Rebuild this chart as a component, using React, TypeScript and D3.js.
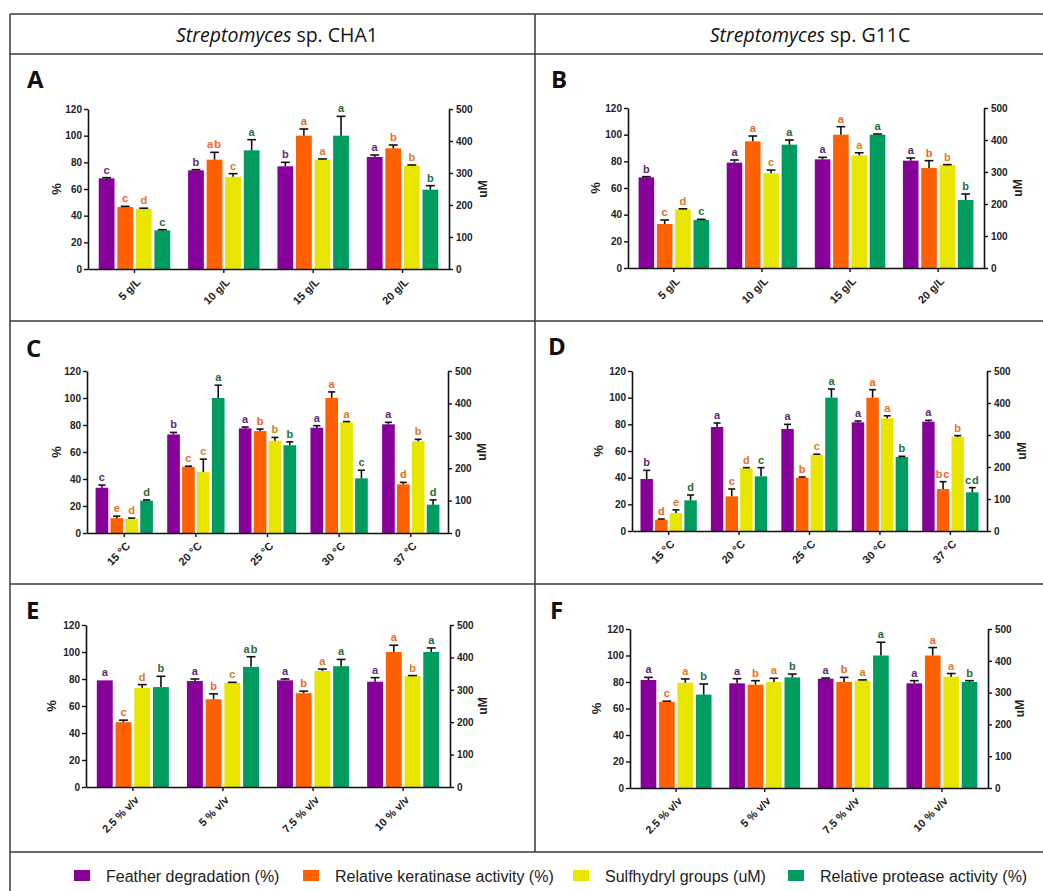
import { useEffect, useRef } from "react";
import * as d3 from "d3";

// categories
const concCategories = ["5 g/L", "10 g/L", "15 g/L", "20 g/L"];
const tempCategories = ["15 °C", "20 °C", "25 °C", "30 °C", "37 °C"];
const volCategories = ["2.5 % v/v", "5 % v/v", "7.5 % v/v", "10 % v/v"];

const seriesNames = [
  "Feather degradation (%)",
  "Relative keratinase activity (%)",
  "Sulfhydryl groups (uM)",
  "Relative protease activity (%)",
];
const barColors = ["#88009a", "#ff6000", "#e8e600", "#009b5e"];
const letterColors = ["#5b2a7e", "#f2661f", "#de7a25", "#1f6d3c"];

const leftTicks = [0, 20, 40, 60, 80, 100, 120];
const rightTicks = [0, 100, 200, 300, 400, 500];

// A - Streptomyces sp. CHA1, feather concentration
const aFeather = [68, 74, 77, 84];
const aFeatherErr = [0.5, 0.5, 3, 1.5];
const aFeatherLet = ["c", "b", "b", "a"];
const aKeratinase = [46.5, 82, 100, 90.5];
const aKeratinaseErr = [0.5, 5.5, 5, 2.5];
const aKeratinaseLet = ["c", "ab", "a", "b"];
const aSulfhydryl = [188, 288, 342, 323];
const aSulfhydrylErr = [2, 10, 2, 2];
const aSulfhydrylLet = ["d", "c", "a", "b"];
const aProtease = [29, 89, 100, 59.5];
const aProteaseErr = [0.5, 8, 14.5, 3];
const aProteaseLet = ["c", "a", "a", "b"];

// B - Streptomyces sp. G11C, feather concentration
const bFeather = [68, 79, 81.5, 80.5];
const bFeatherErr = [0.5, 2, 1.5, 2];
const bFeatherLet = ["b", "a", "a", "a"];
const bKeratinase = [33, 95, 100, 75];
const bKeratinaseErr = [3, 4, 6, 5.5];
const bKeratinaseLet = ["c", "a", "a", "b"];
const bSulfhydryl = [183, 296, 352, 321];
const bSulfhydrylErr = [2, 10, 8, 2];
const bSulfhydrylLet = ["d", "c", "a", "b"];
const bProtease = [36, 92.5, 100, 51];
const bProteaseErr = [0.5, 3.5, 0.5, 4.5];
const bProteaseLet = ["c", "a", "a", "b"];

// C - CHA1, temperature
const cFeather = [33.5, 73, 77.5, 78, 80.5];
const cFeatherErr = [2, 1.5, 1, 1.5, 1.5];
const cFeatherLet = ["c", "b", "a", "a", "a"];
const cKeratinase = [11, 49, 75.5, 100, 36];
const cKeratinaseErr = [1.5, 0.5, 1.5, 4.5, 1.5];
const cKeratinaseLet = ["e", "c", "b", "a", "d"];
const cSulfhydryl = [44, 188, 285, 342, 283];
const cSulfhydrylErr = [2, 40, 10, 2, 6];
const cSulfhydrylLet = ["d", "c", "b", "a", "b"];
const cProtease = [24, 100, 65, 40.5, 21];
const cProteaseErr = [0.5, 9.5, 2.5, 6, 3.5];
const cProteaseLet = ["d", "a", "b", "c", "d"];

// D - G11C, temperature
const dFeather = [39, 78, 76.5, 81.5, 82];
const dFeatherErr = [6.5, 3, 3.5, 1, 1];
const dFeatherLet = ["b", "a", "a", "a", "a"];
const dKeratinase = [8.5, 26, 40, 100, 31.5];
const dKeratinaseErr = [0.5, 5.5, 0.5, 6, 5.5];
const dKeratinaseLet = ["d", "c", "b", "a", "bc"];
const dSulfhydryl = [56, 196, 238, 352, 294];
const dSulfhydrylErr = [10, 2, 2, 8, 4];
const dSulfhydrylLet = ["e", "d", "c", "a", "b"];
const dProtease = [23, 41, 100, 55.5, 29];
const dProteaseErr = [4, 6.5, 6.5, 0.5, 3.5];
const dProteaseLet = ["d", "c", "a", "b", "cd"];

// E - CHA1, inoculum
const eFeather = [79, 78.5, 79, 78];
const eFeatherErr = [0, 1.5, 1, 3];
const eFeatherLet = ["a", "a", "a", "a"];
const eKeratinase = [48, 65, 69.5, 100];
const eKeratinaseErr = [1.5, 4, 1.5, 5];
const eKeratinaseLet = ["c", "b", "b", "a"];
const eSulfhydryl = [306, 321, 358, 342];
const eSulfhydrylErr = [10, 2, 6, 2];
const eSulfhydrylLet = ["d", "c", "a", "b"];
const eProtease = [74, 89, 89.5, 100];
const eProteaseErr = [8, 7.5, 5, 3];
const eProteaseLet = ["b", "ab", "a", "a"];

// F - G11C, inoculum
const fFeather = [81.5, 79, 82.5, 79];
const fFeatherErr = [2, 3.5, 0.5, 2];
const fFeatherLet = ["a", "a", "a", "a"];
const fKeratinase = [65, 78, 80, 100];
const fKeratinaseErr = [0.5, 3, 3.5, 6];
const fKeratinaseLet = ["c", "b", "b", "a"];
const fSulfhydryl = [331, 333, 338, 350];
const fSulfhydrylErr = [12, 12, 2, 10];
const fSulfhydrylLet = ["a", "a", "a", "a"];
const fProtease = [70.5, 83.5, 100, 80];
const fProteaseErr = [8, 2.5, 10, 1];
const fProteaseLet = ["b", "b", "a", "b"];

type Panel = {
  id: string;
  cats: string[];
  values: number[][];
  errors: number[][];
  letters: string[][];
  x0: number;
  x1: number;
  yTop: number;
  yBot: number;
  lx: number;
  ly: number;
  pctX: number;
  umX: number;
};

const panels: Panel[] = [
  {
    id: "A", cats: concCategories,
    values: [aFeather, aKeratinase, aSulfhydryl, aProtease],
    errors: [aFeatherErr, aKeratinaseErr, aSulfhydrylErr, aProteaseErr],
    letters: [aFeatherLet, aKeratinaseLet, aSulfhydrylLet, aProteaseLet],
    x0: 88, x1: 449, yTop: 109, yBot: 269, lx: 27, ly: 88, pctX: 57, umX: 483,
  },
  {
    id: "B", cats: concCategories,
    values: [bFeather, bKeratinase, bSulfhydryl, bProtease],
    errors: [bFeatherErr, bKeratinaseErr, bSulfhydrylErr, bProteaseErr],
    letters: [bFeatherLet, bKeratinaseLet, bSulfhydrylLet, bProteaseLet],
    x0: 628, x1: 984, yTop: 108, yBot: 268, lx: 551, ly: 88, pctX: 596, umX: 1018,
  },
  {
    id: "C", cats: tempCategories,
    values: [cFeather, cKeratinase, cSulfhydryl, cProtease],
    errors: [cFeatherErr, cKeratinaseErr, cSulfhydrylErr, cProteaseErr],
    letters: [cFeatherLet, cKeratinaseLet, cSulfhydrylLet, cProteaseLet],
    x0: 87, x1: 448, yTop: 371, yBot: 533, lx: 26, ly: 357, pctX: 57, umX: 482,
  },
  {
    id: "D", cats: tempCategories,
    values: [dFeather, dKeratinase, dSulfhydryl, dProtease],
    errors: [dFeatherErr, dKeratinaseErr, dSulfhydrylErr, dProteaseErr],
    letters: [dFeatherLet, dKeratinaseLet, dSulfhydrylLet, dProteaseLet],
    x0: 632, x1: 987, yTop: 371, yBot: 531, lx: 548, ly: 355, pctX: 599, umX: 1022,
  },
  {
    id: "E", cats: volCategories,
    values: [eFeather, eKeratinase, eSulfhydryl, eProtease],
    errors: [eFeatherErr, eKeratinaseErr, eSulfhydrylErr, eProteaseErr],
    letters: [eFeatherLet, eKeratinaseLet, eSulfhydrylLet, eProteaseLet],
    x0: 86, x1: 450, yTop: 625, yBot: 787, lx: 26, ly: 619, pctX: 52, umX: 483,
  },
  {
    id: "F", cats: volCategories,
    values: [fFeather, fKeratinase, fSulfhydryl, fProtease],
    errors: [fFeatherErr, fKeratinaseErr, fSulfhydrylErr, fProteaseErr],
    letters: [fFeatherLet, fKeratinaseLet, fSulfhydrylLet, fProteaseLet],
    x0: 630, x1: 988, yTop: 629, yBot: 788, lx: 550, ly: 619, pctX: 597, umX: 1020,
  },
];

const axisFont = "'Liberation Sans', Arial, sans-serif";
const titleFont = "'Open Sans', 'Noto Sans', sans-serif";

function drawPanel(svg: d3.Selection<SVGSVGElement, unknown, null, undefined>, p: Panel) {
  const g = svg.append("g");
  const x = d3.scaleBand<string>().domain(p.cats).range([p.x0, p.x1]).paddingInner(0.2).paddingOuter(0.12);
  const xs = d3.scaleBand<number>().domain([0, 1, 2, 3]).range([0, x.bandwidth()]).paddingInner(0.15);
  const yL = d3.scaleLinear().domain([0, 120]).range([p.yBot, p.yTop]);
  const yR = d3.scaleLinear().domain([0, 500]).range([p.yBot, p.yTop]);
  const scaleFor = (s: number) => (s === 2 ? yR : yL);

  // panel letter
  g.append("text")
    .attr("x", p.lx).attr("y", p.ly)
    .attr("font-family", titleFont).attr("font-weight", 700).attr("font-size", 24)
    .attr("fill", "#111").text(p.id);

  // bars, error bars, significance letters
  p.values.forEach((vals, s) => {
    const y = scaleFor(s);
    const errs = p.errors[s];
    const lets = p.letters[s];
    const sg = g.append("g");
    vals.forEach((v, i) => {
      const bx = (x(p.cats[i]) ?? 0) + (xs(s) ?? 0);
      const bw = xs.bandwidth();
      const cx = bx + bw / 2;
      sg.append("rect")
        .attr("x", bx).attr("y", y(v))
        .attr("width", bw).attr("height", y(0) - y(v))
        .attr("fill", barColors[s]);
      const top = y(v + errs[i]);
      if (errs[i] > 0) {
        sg.append("line")
          .attr("x1", cx).attr("x2", cx).attr("y1", y(v)).attr("y2", top)
          .attr("stroke", "#111").attr("stroke-width", 1.6);
        sg.append("line")
          .attr("x1", cx - bw * 0.28).attr("x2", cx + bw * 0.28).attr("y1", top).attr("y2", top)
          .attr("stroke", "#111").attr("stroke-width", 1.6);
      }
      sg.append("text")
        .attr("x", cx).attr("y", top - 4)
        .attr("text-anchor", "middle")
        .attr("font-family", axisFont).attr("font-weight", 700).attr("font-size", 11)
        .attr("letter-spacing", lets[i].length > 1 ? 1 : 0)
        .attr("fill", letterColors[s]).text(lets[i]);
    });
  });

  const styleAxis = (a: d3.Selection<SVGGElement, unknown, null, undefined>) => {
    a.selectAll("path").attr("stroke", "#111").attr("stroke-width", 1.6);
    a.selectAll("line").attr("stroke", "#111").attr("stroke-width", 1.4);
    a.selectAll("text")
      .attr("font-family", axisFont).attr("font-weight", 700).attr("font-size", 10)
      .attr("fill", "#222");
  };

  const left = g.append("g").attr("transform", `translate(${p.x0},0)`)
    .call(d3.axisLeft(yL).tickValues(leftTicks).tickSize(4).tickPadding(2).tickSizeOuter(0));
  styleAxis(left);

  const right = g.append("g").attr("transform", `translate(${p.x1},0)`)
    .call(d3.axisRight(yR).tickValues(rightTicks).tickSize(4).tickPadding(3).tickSizeOuter(0));
  styleAxis(right);

  const bottom = g.append("g").attr("transform", `translate(0,${p.yBot})`)
    .call(d3.axisBottom(x).tickSize(4).tickSizeOuter(0));
  styleAxis(bottom);
  bottom.selectAll("text")
    .attr("x", 0).attr("y", 0).attr("dy", "0.35em")
    .attr("font-size", 11)
    .attr("text-anchor", "end")
    .attr("transform", "translate(4,11) rotate(-45)");

  // axis titles (both read bottom to top)
  const midY = (p.yTop + p.yBot) / 2;
  g.append("text")
    .attr("transform", `translate(${p.pctX + 4},${midY}) rotate(-90)`)
    .attr("text-anchor", "middle")
    .attr("font-family", axisFont).attr("font-weight", 700).attr("font-size", 13)
    .attr("fill", "#222").text("%");
  g.append("text")
    .attr("transform", `translate(${p.umX + 4},${midY}) rotate(-90)`)
    .attr("text-anchor", "middle")
    .attr("font-family", axisFont).attr("font-weight", 700).attr("font-size", 12)
    .attr("fill", "#222").text("uM");
}

export default function App() {
  const ref = useRef<SVGSVGElement>(null);

  useEffect(() => {
    const svg = d3.select(ref.current as SVGSVGElement);
    svg.selectAll("*").remove();
    const width = 1043;
    const height = 891;

    svg.append("rect").attr("width", width).attr("height", height).attr("fill", "#fff");

    // table grid
    const grid = svg.append("g").attr("stroke", "#3a3a3a").attr("stroke-width", 1.5);
    [14, 54, 321, 584, 852].forEach((y) => {
      grid.append("line").attr("x1", 10).attr("x2", width).attr("y1", y).attr("y2", y);
    });
    grid.append("line").attr("x1", 10).attr("x2", 10).attr("y1", 14).attr("y2", height);
    grid.append("line").attr("x1", 535).attr("x2", 535).attr("y1", 14).attr("y2", 852);

    // column titles
    [
      { x: 277, strain: " sp. CHA1" },
      { x: 810, strain: " sp. G11C" },
    ].forEach((t) => {
      const txt = svg.append("text")
        .attr("x", t.x).attr("y", 42).attr("text-anchor", "middle")
        .attr("font-family", titleFont).attr("font-size", 19.5).attr("fill", "#111");
      txt.append("tspan").attr("font-style", "italic").text("Streptomyces");
      txt.append("tspan").text(t.strain);
    });

    panels.forEach((p) => drawPanel(svg, p));

    // legend
    const legendX = [74, 303, 573, 788];
    const leg = svg.append("g");
    seriesNames.forEach((name, i) => {
      leg.append("rect")
        .attr("x", legendX[i]).attr("y", 870).attr("width", 16).attr("height", 11)
        .attr("fill", barColors[i]);
      leg.append("text")
        .attr("x", legendX[i] + 32).attr("y", 882)
        .attr("font-family", axisFont).attr("font-size", 16).attr("fill", "#222")
        .text(name);
    });
  }, []);

  return (
    <svg
      ref={ref}
      width={1043}
      height={891}
      style={{ position: "absolute", left: 0, top: 0, display: "block" }}
    />
  );
}
